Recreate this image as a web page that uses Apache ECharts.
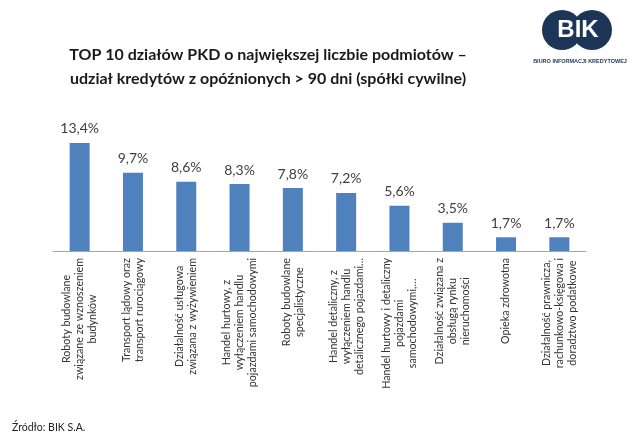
<!DOCTYPE html>
<html>
<head>
<meta charset="utf-8">
<script src="https://cdn.jsdelivr.net/npm/echarts@6/dist/echarts.min.js"></script>
<style>
  html, body { margin: 0; padding: 0; background: #fff; }
  #chart { width: 640px; height: 437px; }
</style>
</head>
<body>
<div id="chart"></div>
<script>
// kategorie PKD (linie podpisów rozdzielone \n)
const categories = [
  "Roboty budowlane\nzwiązane ze wznoszeniem\nbudynków",
  "Transport lądowy oraz\ntransport rurociągowy",
  "Działalność usługowa\nzwiązana z wyżywieniem",
  "Handel hurtowy, z\nwyłączeniem handlu\npojazdami samochodowymi",
  "Roboty budowlane\nspecjalistyczne",
  "Handel detaliczny, z\nwyłączeniem handlu\ndetalicznego pojazdami…",
  "Handel hurtowy i detaliczny\npojazdami\nsamochodowymi,…",
  "Działalność związana z\nobsługą rynku\nnieruchomości",
  "Opieka zdrowotna",
  "Działalność prawnicza,\nrachunkowo-księgowa i\ndoradztwo podatkowe"
];
// udział kredytów z opóźnieniem > 90 dni, %
const shares = [13.4, 9.7, 8.6, 8.3, 7.8, 7.2, 5.6, 3.5, 1.7, 1.7];

const titleLines = [
  "TOP 10 działów PKD o największej liczbie podmiotów –",
  "udział kredytów z opóźnionych > 90 dni (spółki cywilne)"
];
const sourceText = "Źródło: BIK S.A.";

const navy = "#1d3557";
const chart = echarts.init(document.getElementById("chart"));

chart.setOption({
  animation: false,
  title: {
    text: titleLines.join("\n"),
    left: 263,
    top: 38,
    textAlign: "center",
    textStyle: {
      fontFamily: "Lato",
      fontSize: 16,
      fontWeight: "bold",
      color: "#1a1a1a",
      lineHeight: 24
    }
  },
  grid: {
    left: 53,
    right: 54,
    top: 130,
    bottom: 186,
    containLabel: false
  },
  xAxis: {
    type: "category",
    data: categories,
    axisLine: { lineStyle: { color: "#a6a6a6" } },
    axisTick: { length: 5, lineStyle: { color: "#a6a6a6" } },
    axisLabel: {
      interval: 0,
      rotate: 90,
      margin: 7,
      fontFamily: "Lato",
      fontSize: 10.7,
      color: "#333",
      lineHeight: 13,
      formatter: v => v.split("\n").map(l => "{c|" + l + "}").join("\n"),
      rich: {
        c: { align: "center", fontFamily: "Lato", fontSize: 10.7, lineHeight: 13, color: "#333" }
      }
    }
  },
  yAxis: {
    type: "value",
    min: 0,
    max: 15,
    show: false
  },
  series: [
    {
      type: "bar",
      data: shares,
      barWidth: 20,
      itemStyle: { color: "#4f81bd" },
      label: {
        show: true,
        position: "top",
        distance: 7,
        fontFamily: "Lato",
        fontSize: 14,
        color: "#404040",
        formatter: p => p.value.toFixed(1).replace(".", ",") + "%"
      }
    }
  ],
  graphic: [
    { type: "circle", shape: { cx: 562, cy: 30, r: 20 }, style: { fill: navy } },
    { type: "circle", shape: { cx: 592, cy: 30, r: 20 }, style: { fill: navy } },
    {
      type: "text",
      style: {
        text: "BIK", x: 578, y: 30, align: "center", verticalAlign: "middle",
        font: "bold 24px 'Liberation Sans', Arial", fill: "#fff"
      }
    },
    {
      type: "text",
      style: {
        text: "BIURO INFORMACJI KREDYTOWEJ", x: 580, y: 61, align: "center", verticalAlign: "middle",
        font: "bold 5.5px 'Liberation Sans', Arial", fill: navy
      }
    },
    {
      type: "text",
      style: {
        text: sourceText, x: 12, y: 428, verticalAlign: "middle",
        font: "10.5px Lato", fill: "#222"
      }
    }
  ]
});
</script>
</body>
</html>
